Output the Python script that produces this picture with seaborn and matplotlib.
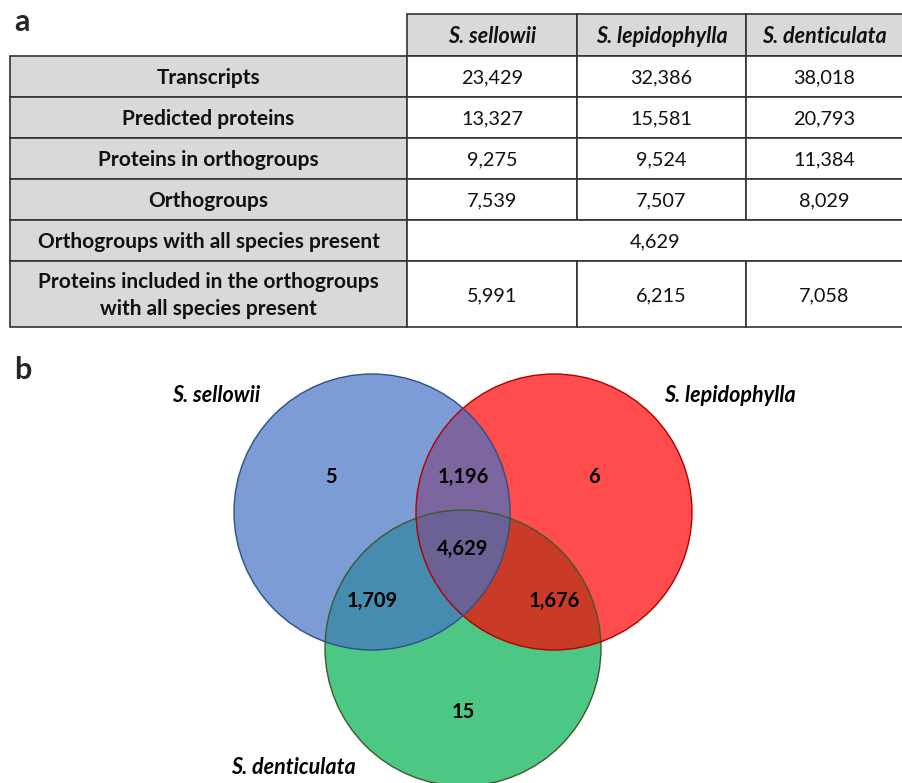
import matplotlib
matplotlib.use("Agg")
import matplotlib.pyplot as plt
from matplotlib.patches import Rectangle, Circle
import seaborn as sns

# ---- table data ----
species = ["S. sellowii", "S. lepidophylla", "S. denticulata"]
row_labels = [
    "Transcripts",
    "Predicted proteins",
    "Proteins in orthogroups",
    "Orthogroups",
    "Orthogroups with all species present",
    "Proteins included in the orthogroups\nwith all species present",
]
transcripts = [23429, 32386, 38018]
predicted_proteins = [13327, 15581, 20793]
proteins_in_orthogroups = [9275, 9524, 11384]
orthogroups = [7539, 7507, 8029]
shared_orthogroups = 4629
proteins_in_shared = [5991, 6215, 7058]

# ---- Venn region counts ----
only_sellowii = 5
only_lepidophylla = 6
only_denticulata = 15
sellowii_lepidophylla = 1196
sellowii_denticulata = 1709
lepidophylla_denticulata = 1676
all_three = 4629

sns.set_theme(style="white")
plt.rcParams["font.family"] = ["Lato", "DejaVu Sans"]

W, H = 903, 783
fig = plt.figure(figsize=(W / 100, H / 100), dpi=100)
ax = fig.add_axes([0, 0, 1, 1])
ax.set_xlim(0, W)
ax.set_ylim(H, 0)
ax.axis("off")

fmt = lambda v: f"{v:,}"
gray = "#d9d9d9"
edge = "#333333"
lw = 1.2
fs_bold = 15.0
fs_num = 14.3
fs_head = 15.5

# column and row boundaries (pixels)
col_x = [10, 407, 577, 746, 903]
head_top = 14
row_y = [56, 97, 138, 179, 220, 261, 327]


def cell(x0, x1, y0, y1, face, text="", size=fs_num, **kw):
    ax.add_patch(Rectangle((x0, y0), x1 - x0, y1 - y0, facecolor=face,
                           edgecolor=edge, lw=lw, zorder=1))
    if text:
        ax.text((x0 + x1) / 2, (y0 + y1) / 2 + 1.5, text, ha="center",
                va="center", fontsize=size, color="#111111",
                linespacing=1.4, **kw)


# header
for j, sp in enumerate(species):
    cell(col_x[j + 1], col_x[j + 2], head_top, row_y[0], gray, sp,
         size=fs_head, fontweight="bold", fontstyle="italic")

table_rows = [transcripts, predicted_proteins, proteins_in_orthogroups,
              orthogroups, None, proteins_in_shared]
for i, (lab, vals) in enumerate(zip(row_labels, table_rows)):
    y0, y1 = row_y[i], row_y[i + 1]
    cell(col_x[0], col_x[1], y0, y1, gray, lab, size=fs_bold,
         fontweight="bold")
    if vals is None:
        cell(col_x[1], col_x[4], y0, y1, "white", fmt(shared_orthogroups))
    else:
        for j, v in enumerate(vals):
            cell(col_x[j + 1], col_x[j + 2], y0, y1, "white", fmt(v))

ax.text(14, 22, "a", fontsize=22, fontweight="bold", ha="left", va="center")
ax.text(14, 370, "b", fontsize=22, fontweight="bold", ha="left", va="center")

# ---- Venn diagram ----
r = 138
circles = [
    ((463, 648), "#00B050", "#3d5a2a"),   # S. denticulata
    ((554, 512), "#FF0000", "#b00000"),   # S. lepidophylla
    ((372, 512), "#4472C4", "#2f4f86"),   # S. sellowii
]
for (cx, cy), fc, ec in circles:
    ax.add_patch(Circle((cx, cy), r, facecolor=fc, alpha=0.7, lw=0, zorder=2))
    ax.add_patch(Circle((cx, cy), r, facecolor="none", edgecolor=ec,
                        lw=1.0, zorder=3))

region_counts = [only_sellowii, sellowii_lepidophylla, only_lepidophylla,
                 all_three, sellowii_denticulata, lepidophylla_denticulata,
                 only_denticulata]
region_pos = [(331, 477), (463, 477), (594, 477), (463, 549),
              (372, 601), (554, 601), (463, 712)]
for v, (x, y) in zip(region_counts, region_pos):
    ax.text(x, y, fmt(v), ha="center", va="center", fontsize=14.5,
            fontweight="bold", color="black", zorder=4)

species_pos = [(216, 396), (730, 396), (293, 768)]
for sp, (x, y) in zip(species, species_pos):
    ax.text(x, y, sp, ha="center", va="center", fontsize=fs_head,
            fontweight="bold", fontstyle="italic", color="black", zorder=4)

fig.savefig("out.png", dpi=100, facecolor="white")
